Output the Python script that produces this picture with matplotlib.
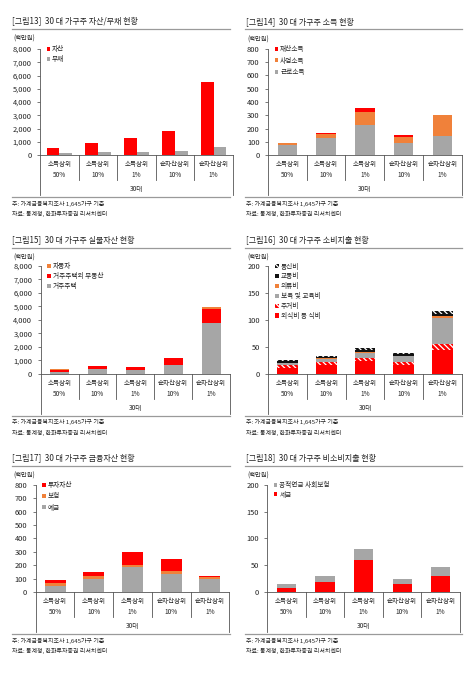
import numpy as np
import matplotlib
matplotlib.use("Agg")
import matplotlib.pyplot as plt
from matplotlib.ticker import StrMethodFormatter

plt.rcParams['font.family'] = ['Noto Sans CJK KR', 'DejaVu Sans']
plt.rcParams['hatch.linewidth'] = 0.9

W, H = 471, 679

categories = ['소득상위\n50%', '소득상위\n10%', '소득상위\n1%', '순자산상위\n10%', '순자산상위\n1%']
group_label = '30대'
note1 = '주: 가계금융복지조사 1,645가구 기준'
note2 = '자료: 통계청, 한화투자증권 리서치센터'

# [그림13] 자산/부채
asset = [525, 875, 1275, 1775, 5500]
debt = [150, 225, 200, 275, 625]

# [그림14] 소득
wage_income = [75, 130, 227, 95, 147]
business_income = [17, 32, 95, 45, 155]
property_income = [1, 7, 35, 10, 1]

# [그림15] 실물자산
house = [150, 320, 300, 620, 3730]
other_real_estate = [110, 220, 200, 515, 1085]
car = [60, 30, 25, 25, 150]

# [그림16] 소비지출
food = [11, 17, 23.5, 17, 45]
housing = [6, 5, 5.5, 5.5, 11]
education = [3, 6, 10, 10, 48]
clothing = [0.5, 1, 1.5, 1, 4]
transport = [2.5, 1.5, 3, 2.5, 4]
communication = [2.5, 2.5, 4, 3, 4]

# [그림17] 금융자산
deposit = [42, 94, 184, 134, 94]
insurance = [23, 23, 17, 25, 20]
investment = [22, 32, 100, 89, 5]

# [그림18] 비소비지출
tax = [7, 18, 60, 14, 29]
pension_insurance = [7, 12, 21, 10, 17]

RED = '#FF0000'
GRAY = '#A6A6A6'
ORANGE = '#F0813A'
TXT = '#222222'
LINE = '#9A9A9A'

fig = plt.figure(figsize=(W / 100, H / 100), dpi=100)


def fx(x):
    return x / W


def fy(y):
    return 1 - y / H


def panel(left, top, right, base, ymax, ystep, title, tx, line_r):
    ax = fig.add_axes([fx(left), fy(base), (right - left) / W, (base - top) / H])
    ax.set_ylim(0, ymax)
    ax.set_xlim(-0.5, 4.5)
    ax.set_yticks(np.arange(0, ymax + 1, ystep))
    ax.yaxis.set_major_formatter(StrMethodFormatter('{x:,.0f}'))
    ax.tick_params(axis='y', labelsize=5.4, length=2, width=0.5, pad=4,
                   colors='#444444', labelcolor=TXT)
    ax.set_xticks([])
    for s in ['top', 'right']:
        ax.spines[s].set_visible(False)
    for s in ['left', 'bottom']:
        ax.spines[s].set_color('#555555')
        ax.spines[s].set_linewidth(0.6)
    hpx = base - top
    tr = ax.get_xaxis_transform()
    # category labels and separators
    for i, c in enumerate(categories):
        ax.text(i, -14.5 / hpx, c, transform=tr, ha='center', va='center',
                fontsize=4.7, color=TXT, linespacing=1.45)
    for b in np.arange(0.5, 4.5, 1.0):
        ax.plot([b, b], [0, -25 / hpx], transform=tr, color='#555555',
                lw=0.6, clip_on=False)
    for b in [-0.5, 4.5]:
        ax.plot([b, b], [0, -40 / hpx], transform=tr, color='#555555',
                lw=0.6, clip_on=False)
    ax.text(2, -34 / hpx, group_label, transform=tr, ha='center', va='center',
            fontsize=4.7, color=TXT)
    # title, rules, unit and notes
    fig.text(fx(tx), fy(base - 134), title, fontsize=5.8, color=TXT, va='center')
    fig.add_artist(plt.Line2D([fx(tx - 1), fx(line_r)], [fy(base - 126)] * 2,
                              color=LINE, lw=0.9))
    fig.text(fx(tx + 1), fy(base - 116), '(백만원)', fontsize=4.5, color=TXT, va='center')
    fig.add_artist(plt.Line2D([fx(tx - 1), fx(line_r)], [fy(base + 42)] * 2,
                              color=LINE, lw=0.9))
    fig.text(fx(tx), fy(base + 48.5), note1, fontsize=4.3, color=TXT, va='center')
    fig.text(fx(tx), fy(base + 59), note2, fontsize=4.3, color=TXT, va='center')
    return ax


def stack(ax, series, colors, labels, width=0.5, hatches=None, hcolors=None):
    x = np.arange(len(categories))
    bottom = np.zeros(len(categories))
    handles = []
    for k, (vals, col, lab) in enumerate(zip(series, colors, labels)):
        if hatches and hatches[k]:
            kw = dict(hatch=hatches[k], edgecolor=hcolors[k], linewidth=0)
        else:
            kw = dict(linewidth=0)
        h = ax.bar(x, vals, width, bottom=bottom, color=col, label=lab, **kw)
        handles.append(h)
        bottom += np.array(vals)
    return handles


def legend(ax, handles, labels, dx, spacing):
    ax.legend(handles, labels, loc='upper left', bbox_to_anchor=(dx, 1.06),
              frameon=False, fontsize=4.8, handlelength=0.55, handleheight=0.55,
              handletextpad=0.3, labelspacing=spacing, borderaxespad=0,
              labelcolor=TXT)


# ---- [그림13]
ax = panel(40, 49, 233, 155, 8000, 1000, '[그림13]  30 대 가구주 자산/부채 현황', 12.5, 230)
x = np.arange(len(categories))
b1 = ax.bar(x - 0.165, asset, 0.33, color=RED, linewidth=0)
b2 = ax.bar(x + 0.165, debt, 0.33, color=GRAY, linewidth=0)
legend(ax, [b1, b2], ['자산', '부채'], 0.02, 0.3)

# ---- [그림14]
ax = panel(268, 48.7, 461.7, 155.3, 800, 100, '[그림14]  30 대 가구주 소득 현황', 246, 462)
h = stack(ax, [wage_income, business_income, property_income], [GRAY, ORANGE, RED],
          ['근로소득', '사업소득', '재산소득'])
legend(ax, h[::-1], ['재산소득', '사업소득', '근로소득'], 0.02, 0.55)

# ---- [그림15]
ax = panel(40.7, 265.7, 230, 373.7, 8000, 1000, '[그림15]  30 대 가구주 실물자산 현황', 12.5, 230)
h = stack(ax, [house, other_real_estate, car], [GRAY, RED, ORANGE],
          ['거주주택', '거주주택외 부동산', '자동차'])
legend(ax, h[::-1], ['자동차', '거주주택외 부동산', '거주주택'], 0.02, 0.3)

# ---- [그림16]
ax = panel(268.3, 266.3, 461.7, 373.7, 200, 50, '[그림16]  30 대 가구주 소비지출 현황', 246, 462)
h = stack(ax, [food, housing, education, clothing, transport, communication],
          [RED, RED, GRAY, ORANGE, '#111111', '#111111'],
          ['외식비 등 식비', '주거비', '보육 및 교육비', '의류비', '교통비', '통신비'],
          width=0.53,
          hatches=[None, '\\\\\\\\\\\\', None, None, None, '\\\\\\\\\\\\'],
          hcolors=[None, 'white', None, None, None, 'white'])
legend(ax, h[::-1], ['통신비', '교통비', '의류비', '보육 및 교육비', '주거비', '외식비 등 식비'],
       0.02, 0.28)

# ---- [그림17]
ax = panel(35.7, 484.7, 229.3, 592, 800, 100, '[그림17]  30 대 가구주 금융자산 현황', 12.5, 230)
h = stack(ax, [deposit, insurance, investment], [GRAY, ORANGE, RED],
          ['예금', '보험', '투자자산'], width=0.54)
legend(ax, h[::-1], ['투자자산', '보험', '예금'], 0.02, 0.5)

# ---- [그림18]
ax = panel(267.3, 484.7, 460, 592, 200, 50, '[그림18]  30 대 가구주 비소비지출 현황', 246, 462)
h = stack(ax, [tax, pension_insurance], [RED, GRAY], ['세금', '공적연금 사회보험'])
legend(ax, h[::-1], ['공적연금 사회보험', '세금'], 0.02, 0.25)

fig.savefig('out.png', dpi=100, facecolor='white')
